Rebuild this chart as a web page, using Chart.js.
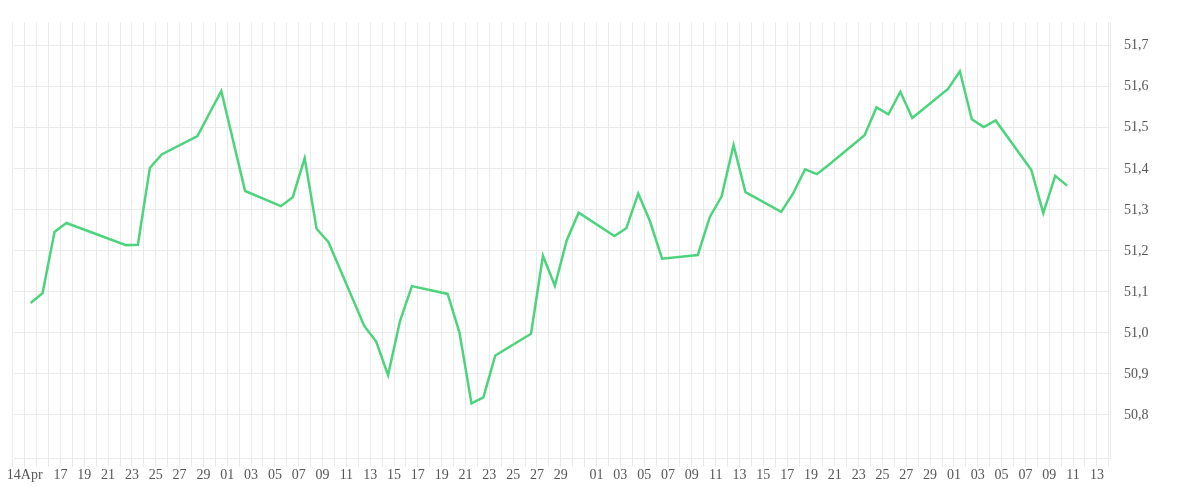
<!DOCTYPE html>
<html>
<head>
<meta charset="utf-8">
<script src="https://cdn.jsdelivr.net/npm/chart.js@4/dist/chart.umd.min.js"></script>
<style>
  html, body { margin: 0; padding: 0; background: #fff; }
  #wrap { width: 1200px; height: 500px; }
</style>
</head>
<body>
<div id="wrap"><canvas id="chart"></canvas></div>
<script>
// trading days, as days since 14 Apr
const dayIndex = [0, 1, 2, 3, 8, 9, 10, 11, 14, 16, 18, 21, 22, 23, 24, 25, 28, 29, 30, 31,
  32, 35, 36, 37, 38, 39, 42, 43, 44, 45, 46, 49, 50, 51, 52, 53, 56, 57, 58, 59,
  60, 63, 64, 65, 66, 67, 70, 71, 72, 73, 74, 77, 78, 79, 80, 81, 84, 85, 86, 87];
const prices = [51.073, 51.097, 51.246, 51.268, 51.214, 51.215, 51.402, 51.435, 51.480, 51.590,
  51.346, 51.309, 51.331, 51.426, 51.254, 51.221, 51.017, 50.979, 50.897, 51.029,
  51.114, 51.095, 51.000, 50.828, 50.843, 50.945, 50.998, 51.188, 51.115, 51.226,
  51.293, 51.236, 51.255, 51.340, 51.271, 51.181, 51.190, 51.282, 51.333, 51.458,
  51.343, 51.295, 51.340, 51.399, 51.387, 51.410, 51.482, 51.550, 51.533, 51.588,
  51.524, 51.595, 51.638, 51.521, 51.502, 51.518, 51.397, 51.292, 51.383, 51.359];
const yTicks = [50.8, 50.9, 51.0, 51.1, 51.2, 51.3, 51.4, 51.5, 51.6, 51.7];
const startDate = new Date(2025, 3, 14);
const months = ["Jan", "Feb", "Mar", "Apr", "May", "Jun", "Jul", "Aug", "Sep", "Oct", "Nov", "Dec"];

const dayLabel = (k) => {
  if (k === 0) return "14" + months[startDate.getMonth()];
  if (k < 3) return "";
  const d = new Date(2025, 3, 14 + k).getDate();
  if (d % 2 === 0 || d === 31) return "";
  return String(d).padStart(2, "0");
};

const gridColor = "#eaeaea";
const tickFont = { family: "Liberation Serif", size: 14 };

new Chart(document.getElementById("chart").getContext("2d"), {
  type: "line",
  data: {
    datasets: [{
      data: dayIndex.map((d, i) => ({ x: d + 0.5, y: prices[i] })),
      borderColor: "#4cd47c",
      borderWidth: 2.5,
      pointRadius: 0,
      tension: 0,
      fill: false
    }]
  },
  options: {
    responsive: true,
    maintainAspectRatio: false,
    animation: false,
    layout: { padding: { left: 14, top: 2, right: 0, bottom: 0 } },
    plugins: { legend: { display: false }, tooltip: { enabled: false } },
    scales: {
      x: {
        type: "linear",
        min: -0.9,
        max: 91.1,
        afterBuildTicks: (axis) => {
          axis.ticks = [];
          for (let k = -1; k <= 91; k++) axis.ticks.push({ value: k });
        },
        afterFit: (axis) => { axis.height = 42; },
        grid: { color: gridColor, tickLength: 9, tickColor: gridColor },
        border: { color: gridColor },
        ticks: {
          autoSkip: false,
          maxRotation: 0,
          color: "#555",
          font: tickFont,
          padding: 0,
          callback: (v) => dayLabel(v)
        }
      },
      y: {
        position: "right",
        min: 50.695,
        max: 51.757,
        afterBuildTicks: (axis) => { axis.ticks = yTicks.map((v) => ({ value: v })); },
        afterFit: (axis) => { axis.width = 90; },
        grid: { color: gridColor, drawTicks: false },
        border: { color: gridColor },
        ticks: {
          color: "#555",
          font: tickFont,
          padding: 14,
          callback: (v) => v.toFixed(1).replace(".", ",")
        }
      }
    }
  }
});
</script>
</body>
</html>
